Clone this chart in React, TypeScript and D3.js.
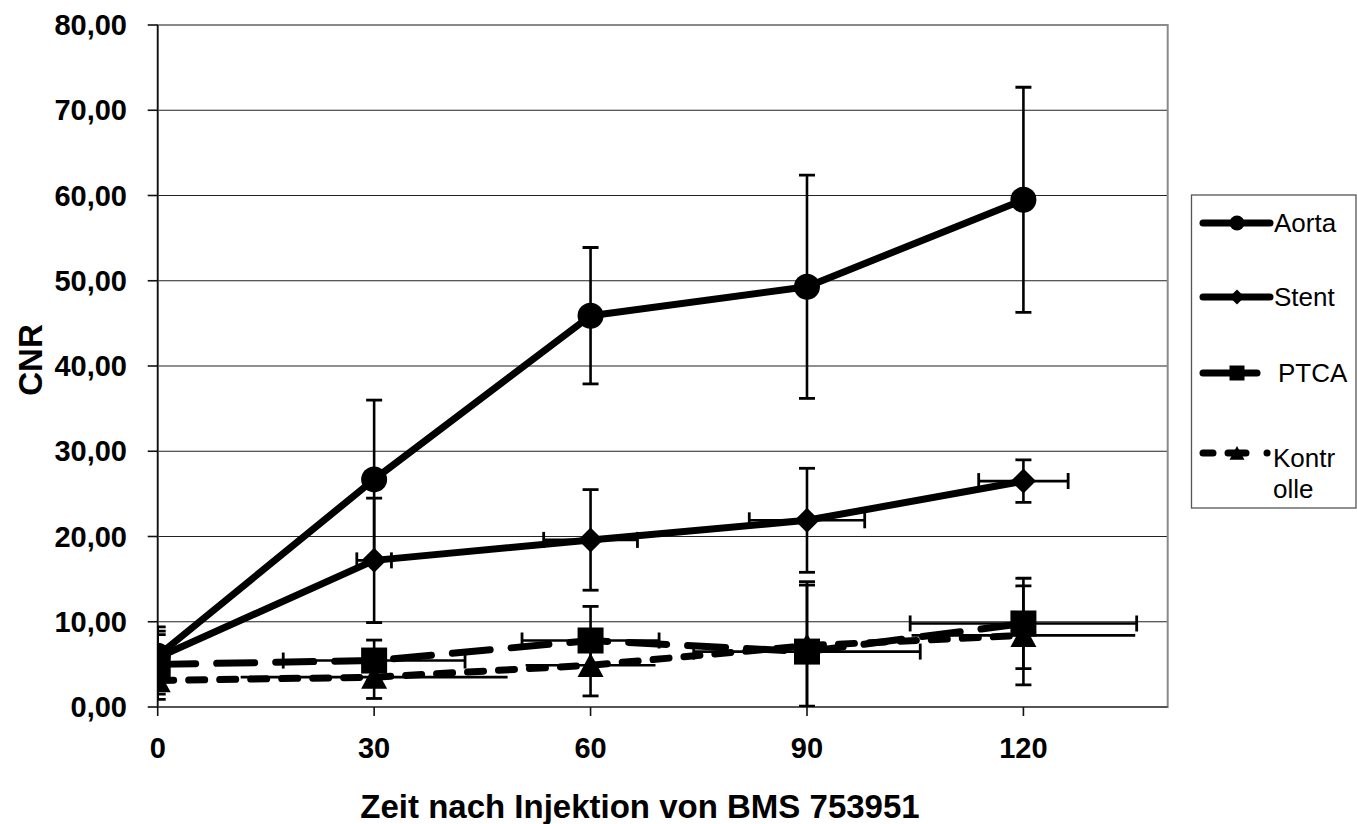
import React, { useEffect, useRef } from "react";
import * as d3 from "d3";

// time points (min after injection)
const times = [0, 30, 60, 90, 120];
const xTicks = [0, 30, 60, 90, 120];
const yTicks = [0, 10, 20, 30, 40, 50, 60, 70, 80];

const seriesNames = ["Aorta", "Stent", "PTCA", "Kontrolle"];

const aorta = [6.0, 26.7, 45.9, 49.3, 59.5];
const aortaErr = [3.4, 9.3, 8.0, 13.1, 13.2];
const aortaXErr = [0, 0, 0, 0, 0];

const stent = [5.8, 17.2, 19.6, 21.9, 26.5];
const stentErr = [3.1, 7.3, 5.9, 6.1, 2.5];
const stentXErr = [0, 2.4, 6.5, 8.0, 6.2];

const ptca = [5.0, 5.45, 7.8, 6.5, 9.8];
const ptcaErr = [3.5, 2.4, 4.0, 8.2, 5.3];
const ptcaXErr = [0, 12.6, 9.5, 15.7, 15.7];

const kontrolle = [3.1, 3.5, 4.9, 7.2, 8.4];
const kontrolleErr = [2.2, 2.5, 3.6, 7.1, 5.8];
const kontrolleXErr = [0, 18.5, 9.0, 0, 15.5];

const W = 1357;
const H = 824;
const FONT = "'Liberation Sans', Arial, sans-serif";

function markerPath(kind: string, s: number) {
  const h = s / 2;
  if (kind === "circle") {
    const p = d3.path();
    p.arc(0, 0, h, 0, Math.PI * 2);
    p.closePath();
    return p.toString();
  }
  if (kind === "diamond") return `M0,${-h}L${h},0L0,${h}L${-h},0Z`;
  if (kind === "square") return `M${-h},${-h}H${h}V${h}H${-h}Z`;
  // triangle
  return `M0,${-h * 0.95}L${h},${h * 0.9}L${-h},${h * 0.9}Z`;
}

export default function App() {
  const ref = useRef<SVGSVGElement | null>(null);

  useEffect(() => {
    const svg = d3.select(ref.current);
    svg.selectAll("*").remove();

    const x = d3.scaleLinear().domain([0, 140]).range([157.7, 1167.7]);
    const y = d3.scaleLinear().domain([0, 80]).range([707, 25]);
    const fmt = (v: number) => d3.format(".2f")(v).replace(".", ",");

    const series = [
      { name: seriesNames[0], vals: aorta, err: aortaErr, xerr: aortaXErr, marker: "circle", size: 26, dash: null, xcap: true, legendDash: null, legendX2: 1270 },
      { name: seriesNames[1], vals: stent, err: stentErr, xerr: stentXErr, marker: "diamond", size: 25, dash: null, xcap: true, legendDash: null, legendX2: 1270 },
      { name: seriesNames[2], vals: ptca, err: ptcaErr, xerr: ptcaXErr, marker: "square", size: 26, dash: "38 21", xcap: true, legendDash: null, legendX2: 1257 },
      { name: seriesNames[3], vals: kontrolle, err: kontrolleErr, xerr: kontrolleXErr, marker: "triangle", size: 26, dash: "16 15", xcap: false, legendDash: "10 15 18 21 0.1 60", legendX2: 1268 },
    ];

    svg.append("defs").append("clipPath").attr("id", "plotclip")
      .append("rect")
      .attr("x", x(0)).attr("y", y(80))
      .attr("width", x(140) - x(0)).attr("height", y(0) - y(80));

    // gridlines
    svg.append("g").selectAll("line")
      .data(yTicks.filter((d) => d > 0 && d < 80))
      .enter().append("line")
      .attr("x1", x(0)).attr("x2", x(140))
      .attr("y1", (d) => y(d)).attr("y2", (d) => y(d))
      .attr("stroke", "#222").attr("stroke-width", 1.2);

    // plot border
    svg.append("rect")
      .attr("x", x(0)).attr("y", y(80))
      .attr("width", x(140) - x(0)).attr("height", y(0) - y(80))
      .attr("fill", "none").attr("stroke", "#8a8a8a").attr("stroke-width", 2);

    // axes
    svg.append("line")
      .attr("x1", x(0)).attr("x2", x(140)).attr("y1", y(0)).attr("y2", y(0))
      .attr("stroke", "#555").attr("stroke-width", 2);
    svg.append("line")
      .attr("x1", x(0)).attr("x2", x(0)).attr("y1", y(0)).attr("y2", y(80))
      .attr("stroke", "#111").attr("stroke-width", 1.6);

    const yAxis = svg.append("g");
    yAxis.selectAll("line").data(yTicks).enter().append("line")
      .attr("x1", x(0) - 10).attr("x2", x(0))
      .attr("y1", (d) => y(d)).attr("y2", (d) => y(d))
      .attr("stroke", "#111").attr("stroke-width", 1.6);
    yAxis.selectAll("text").data(yTicks).enter().append("text")
      .attr("x", 127).attr("y", (d) => y(d) + 10)
      .attr("text-anchor", "end")
      .attr("font-family", FONT).attr("font-weight", "bold").attr("font-size", 29)
      .text((d) => fmt(d));

    const xAxis = svg.append("g");
    xAxis.selectAll("line").data(xTicks).enter().append("line")
      .attr("x1", (d) => x(d)).attr("x2", (d) => x(d))
      .attr("y1", y(0)).attr("y2", y(0) + 9)
      .attr("stroke", "#111").attr("stroke-width", 1.6);
    xAxis.selectAll("text").data(xTicks).enter().append("text")
      .attr("x", (d) => x(d)).attr("y", 758)
      .attr("text-anchor", "middle")
      .attr("font-family", FONT).attr("font-weight", "bold").attr("font-size", 29)
      .text((d) => String(d));

    svg.append("text")
      .attr("x", 640).attr("y", 818)
      .attr("text-anchor", "middle")
      .attr("font-family", FONT).attr("font-weight", "bold").attr("font-size", 33)
      .text("Zeit nach Injektion von BMS 753951");

    svg.append("text")
      .attr("transform", "translate(42,360) rotate(-90)")
      .attr("text-anchor", "middle")
      .attr("font-family", FONT).attr("font-weight", "bold").attr("font-size", 33)
      .text("CNR");

    const plot = svg.append("g").attr("clip-path", "url(#plotclip)");
    const line = d3.line<number>().x((d, i) => x(times[i])).y((d) => y(d));

    series.forEach((s) => {
      const g = plot.append("g");
      g.append("path")
        .attr("d", line(s.vals))
        .attr("fill", "none").attr("stroke", "#000").attr("stroke-width", 7)
        .attr("stroke-linecap", s.dash ? "round" : "butt")
        .attr("stroke-linejoin", "round")
        .attr("stroke-dasharray", s.dash);

      // error bars (y, then x)
      s.vals.forEach((v, i) => {
        const cx = x(times[i]);
        const e = s.err[i];
        g.append("line")
          .attr("x1", cx).attr("x2", cx).attr("y1", y(v - e)).attr("y2", y(v + e))
          .attr("stroke", "#000").attr("stroke-width", 2.6);
        [v - e, v + e].forEach((t) => {
          if (t < 0) return;
          g.append("line")
            .attr("x1", cx - 8).attr("x2", cx + 8).attr("y1", y(t)).attr("y2", y(t))
            .attr("stroke", "#000").attr("stroke-width", 2.8);
        });
        const xe = s.xerr[i];
        if (xe > 0) {
          const cy = y(v);
          g.append("line")
            .attr("x1", x(times[i] - xe)).attr("x2", x(times[i] + xe)).attr("y1", cy).attr("y2", cy)
            .attr("stroke", "#000").attr("stroke-width", 2.6);
          if (s.xcap) {
            [times[i] - xe, times[i] + xe].forEach((t) => {
              g.append("line")
                .attr("x1", x(t)).attr("x2", x(t)).attr("y1", cy - 8).attr("y2", cy + 8)
                .attr("stroke", "#000").attr("stroke-width", 2.8);
            });
          }
        }
      });

      g.selectAll("path.mk").data(s.vals).enter().append("path")
        .attr("class", "mk")
        .attr("d", markerPath(s.marker, s.size))
        .attr("transform", (d, i) => `translate(${x(times[i])},${y(d)})`)
        .attr("fill", "#000");
    });

    // legend
    const lg = svg.append("g");
    lg.append("rect")
      .attr("x", 1191.5).attr("y", 195).attr("width", 164.5).attr("height", 313)
      .attr("fill", "#fff").attr("stroke", "#555").attr("stroke-width", 1.3);
    const legendY = [223, 297, 373, 453];
    series.forEach((s, i) => {
      const ly = legendY[i];
      lg.append("line")
        .attr("x1", 1203).attr("x2", s.legendX2).attr("y1", ly).attr("y2", ly)
        .attr("stroke", "#000").attr("stroke-width", 7)
        .attr("stroke-linecap", "round")
        .attr("stroke-dasharray", s.legendDash);
      lg.append("path")
        .attr("d", markerPath(s.marker, 15))
        .attr("transform", `translate(1237,${ly})`)
        .attr("fill", "#000");
      const txt = lg.append("text")
        .attr("font-family", FONT).attr("font-size", 26);
      if (s.name === "Kontrolle") {
        txt.attr("y", ly + 14);
        txt.append("tspan").attr("x", 1273).text("Kontr");
        txt.append("tspan").attr("x", 1273).attr("dy", 31).text("olle");
      } else {
        txt.attr("x", i === 2 ? 1278 : 1274).attr("y", ly + 9).text(s.name);
      }
    });
  }, []);

  return (
    <svg
      ref={ref}
      width={W}
      height={H}
      style={{ position: "absolute", left: 0, top: 0, background: "#fff" }}
    />
  );
}
